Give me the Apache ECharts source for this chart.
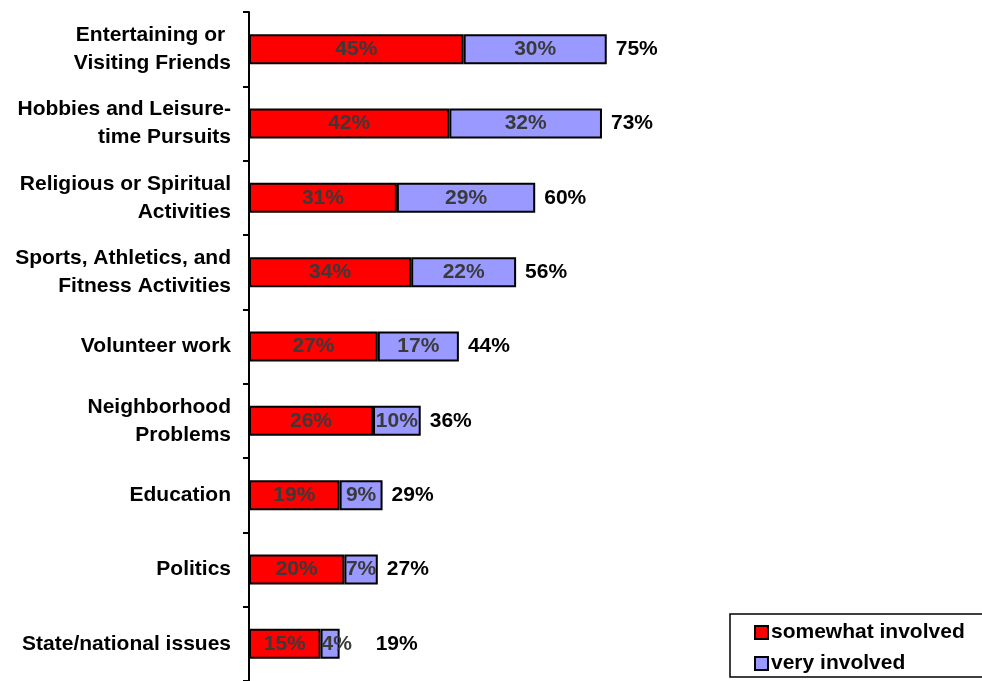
<!DOCTYPE html>
<html>
<head>
<meta charset="utf-8">
<script src="https://cdn.jsdelivr.net/npm/echarts@6/dist/echarts.min.js"></script>
<style>
  html, body { margin: 0; padding: 0; background: #fff; }
  #chart { width: 982px; height: 681px; }
</style>
</head>
<body>
<div id="chart"></div>
<script>
var categories = [
  'Entertaining or \nVisiting Friends',
  'Hobbies and Leisure-\ntime Pursuits',
  'Religious or Spiritual\nActivities',
  'Sports, Athletics, and\nFitness Activities',
  'Volunteer work',
  'Neighborhood\nProblems',
  'Education',
  'Politics',
  'State/national issues'
]
var somewhat = [45, 42, 31, 34, 27, 26, 19, 20, 15]
var very = [30, 32, 29, 22, 17, 10, 9, 7, 4]
var totals = [75, 73, 60, 56, 44, 36, 29, 27, 19]

var font = 'Liberation Sans, Arial, sans-serif'

// label used inside both stacked parts
var innerLabel = {
  show: true,
  position: 'inside',
  formatter: '{c}%',
  color: '#3a3a3a',
  fontSize: 21,
  fontWeight: 'bold',
  fontFamily: font,
  textBorderWidth: 0,
  overflow: 'none'
}

var chart = echarts.init(document.getElementById('chart'))
chart.setOption({
  animation: false,
  textStyle: { fontFamily: font },
  grid: { left: 249, right: 256, top: 12, bottom: 0 },
  legend: {
    orient: 'vertical',
    left: 730,
    top: 614,
    padding: [8, 60, 3, 24],
    itemGap: 10,
    itemWidth: 13,
    itemHeight: 13,
    borderColor: '#000',
    borderWidth: 1.5,
    icon: 'rect',
    textStyle: { fontSize: 21, fontWeight: 'bold', color: '#000', fontFamily: font, padding: [0, 0, 0, -2] },
    data: ['somewhat involved', 'very involved']
  },
  xAxis: {
    type: 'value',
    min: 0,
    max: 100,
    show: false
  },
  yAxis: {
    type: 'category',
    inverse: true,
    data: categories,
    axisLine: { lineStyle: { color: '#000', width: 2 } },
    axisTick: { show: true, length: 6, lineStyle: { color: '#000', width: 2 } },
    axisLabel: {
      color: '#000',
      fontSize: 21,
      fontWeight: 'bold',
      fontFamily: font,
      lineHeight: 28,
      align: 'right',
      margin: 18
    }
  },
  series: [
    {
      name: 'somewhat involved',
      type: 'bar',
      stack: 'all',
      barWidth: 30,
      z: 2,
      itemStyle: { color: '#ff0000', borderColor: '#000', borderWidth: 2 },
      label: innerLabel,
      data: somewhat
    },
    {
      name: 'very involved',
      type: 'bar',
      stack: 'all',
      barWidth: 30,
      z: 3,
      itemStyle: { color: '#9999ff', borderColor: '#000', borderWidth: 2 },
      label: innerLabel,
      data: very.map(function (v, i) {
        // the narrowest segment's label spills past the bar end
        return i === very.length - 1 ? { value: v, label: { position: 'insideLeft', distance: 1 } } : v
      })
    },
    {
      name: 'total',
      type: 'bar',
      stack: 'all',
      barWidth: 30,
      silent: true,
      z: 1,
      itemStyle: { color: 'transparent' },
      label: {
        show: true,
        position: 'insideLeft',
        distance: 9,
        formatter: function (p) { return totals[p.dataIndex] + '%' },
        color: '#000',
        fontSize: 21,
        fontWeight: 'bold',
        fontFamily: font
      },
      data: totals.map(function (t, i) {
        return i === totals.length - 1 ? { value: 0.01, label: { distance: 36 } } : 0.01
      })
    }
  ]
})
</script>
</body>
</html>
